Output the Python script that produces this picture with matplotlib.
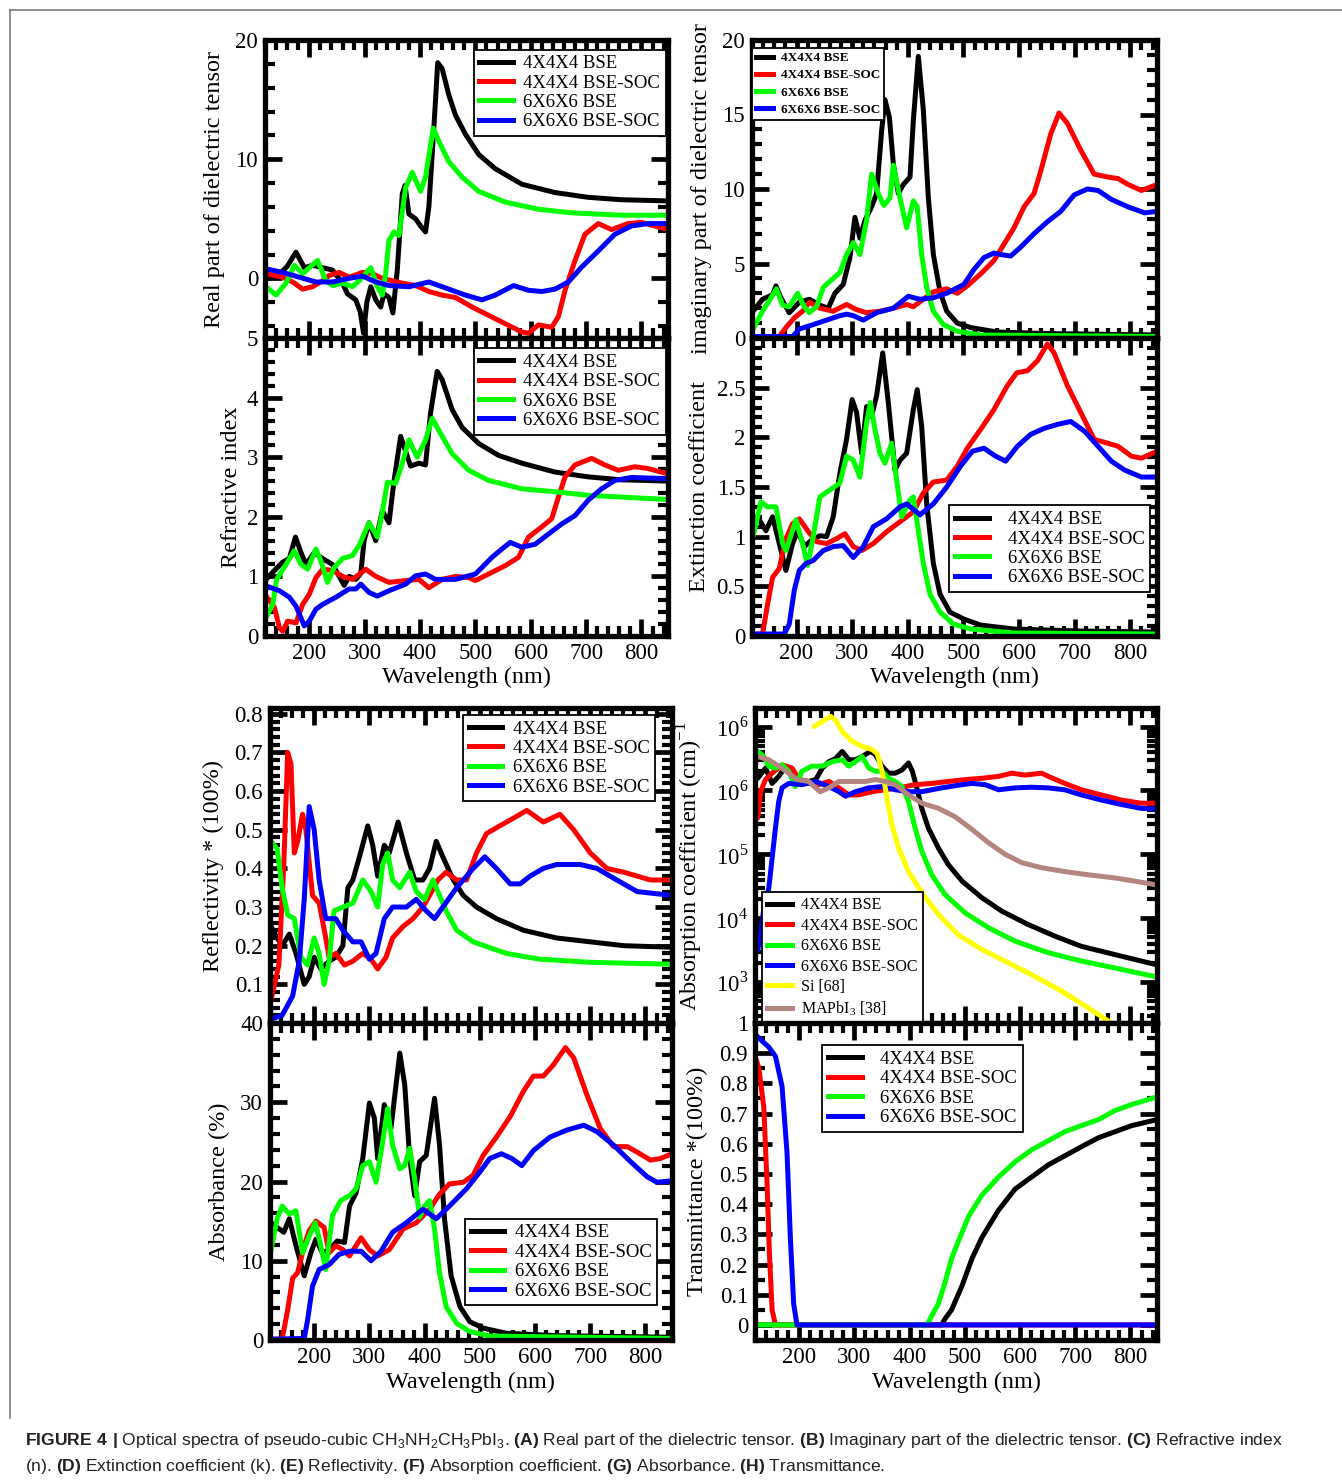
import numpy as np
import matplotlib
matplotlib.use("Agg")
import matplotlib.pyplot as plt
from matplotlib import font_manager
from matplotlib.lines import Line2D
from matplotlib.ticker import MultipleLocator, FixedLocator, FuncFormatter, LogLocator, NullFormatter

W, H = 1342, 1483
DPI = 100

series_labels = ["4X4X4 BSE", "4X4X4 BSE-SOC", "6X6X6 BSE", "6X6X6 BSE-SOC"]
series_colors = ["#000000", "#ff0000", "#00ff00", "#0000ff"]

# ---- (A) real part of dielectric tensor: (wavelength nm, value)
re_bse4 = [(122, 0.0), (140, 0.1), (160, 1.0), (176, 2.2), (191, 0.9), (206, 1.1), (224, 0.9), (242, 0.7),
           (260, -0.4), (269, -1.3), (284, -1.8), (292, -2.8), (298, -4.6), (304, -2.0), (311, -0.7),
           (320, -1.8), (329, -2.4), (335, -1.3), (344, -1.6), (351, -2.9), (359, 0.7), (368, 7.1),
           (373, 7.8), (380, 5.4), (392, 5.0), (401, 4.4), (410, 3.9), (416, 6.0), (425, 12.6), (432, 18.1),
           (440, 17.6), (452, 15.4), (464, 13.7), (482, 12.1), (506, 10.4), (536, 9.2), (584, 7.9),
           (644, 7.2), (704, 6.8), (764, 6.6), (848, 6.5)]
re_soc4 = [(122, 0.4), (152, 0.1), (170, -0.3), (188, -0.9), (206, -0.7), (224, -0.2), (236, 0.25),
           (254, 0.5), (272, 0.1), (296, 0.5), (314, 0.4), (332, 0.0), (368, -0.4), (392, -0.6),
           (416, -1.1), (440, -1.4), (464, -1.6), (494, -2.4), (524, -3.1), (554, -3.8), (584, -4.5),
           (596, -4.6), (614, -3.9), (638, -4.1), (650, -3.2), (662, -1.0), (680, 1.5), (698, 3.7),
           (722, 4.6), (746, 4.1), (776, 4.6), (800, 4.7), (824, 4.4), (848, 4.1)]
re_bse6 = [(122, -0.7), (140, -1.4), (158, -0.4), (173, 1.1), (188, 0.4), (215, 1.5), (230, -0.2),
           (242, -0.6), (260, -0.4), (278, -0.7), (290, -0.2), (311, 0.9), (323, -0.7), (332, -1.4),
           (338, 0.4), (344, 3.2), (353, 3.9), (362, 3.6), (374, 7.6), (386, 8.9), (401, 7.3), (410, 8.5),
           (424, 12.6), (434, 11.5), (452, 9.8), (476, 8.5), (506, 7.3), (554, 6.4), (614, 5.8),
           (674, 5.5), (764, 5.3), (848, 5.3)]
re_soc6 = [(122, 0.8), (152, 0.5), (182, 0.1), (212, -0.3), (242, -0.3), (272, 0.0), (296, 0.2),
           (320, -0.3), (344, -0.6), (380, -0.7), (416, -0.3), (452, -0.9), (482, -1.4), (512, -1.8),
           (536, -1.4), (569, -0.6), (596, -1.0), (620, -1.1), (644, -0.9), (668, -0.3), (692, 0.95),
           (722, 2.3), (752, 3.7), (782, 4.4), (812, 4.6), (848, 4.6)]

# ---- (B) imaginary part of dielectric tensor
im_bse4 = [(122, 1.8), (139, 2.6), (157, 2.9), (163, 3.5), (172, 2.7), (187, 1.7), (205, 2.4), (223, 2.6),
           (242, 2.2), (257, 2.0), (269, 3.0), (284, 3.6), (296, 5.4), (305, 8.1), (314, 6.7), (323, 7.9),
           (335, 8.8), (344, 9.7), (353, 13.9), (359, 16.0), (367, 14.8), (374, 11.7), (383, 9.7),
           (392, 10.3), (404, 10.8), (410, 14.6), (419, 18.9), (428, 15.3), (437, 9.4), (446, 5.6),
           (458, 3.1), (470, 1.8), (489, 1.0), (513, 0.7), (561, 0.4), (651, 0.3), (848, 0.2)]
im_soc4 = [(122, 0.1), (169, 0.1), (181, 0.7), (196, 1.35), (211, 1.8), (223, 2.4), (242, 2.0), (266, 1.8),
           (290, 2.25), (308, 1.9), (326, 1.7), (350, 1.8), (374, 2.0), (398, 2.25), (410, 2.1),
           (428, 2.6), (446, 3.1), (470, 3.3), (489, 3.0), (507, 3.5), (531, 4.3), (555, 5.2), (573, 6.3),
           (591, 7.4), (609, 8.8), (627, 9.7), (639, 11.2), (657, 13.7), (672, 15.1), (687, 14.4),
           (711, 12.6), (735, 11.0), (760, 10.8), (778, 10.7), (796, 10.3), (820, 9.9), (848, 10.3)]
im_bse6 = [(122, 0.6), (139, 1.8), (151, 2.5), (164, 3.3), (175, 2.2), (187, 2.1), (202, 3.0), (214, 2.1),
           (223, 1.7), (236, 2.1), (248, 3.4), (266, 4.0), (278, 4.4), (290, 5.6), (302, 6.4), (314, 5.6),
           (326, 7.9), (335, 11.0), (347, 9.7), (357, 8.9), (368, 9.4), (374, 11.6), (386, 9.4),
           (398, 7.4), (410, 9.2), (417, 8.8), (425, 5.6), (434, 3.4), (446, 1.8), (464, 0.9), (489, 0.45),
           (531, 0.2), (848, 0.1)]
im_soc6 = [(122, 0.1), (193, 0.1), (205, 0.6), (230, 0.9), (254, 1.2), (278, 1.5), (290, 1.6), (302, 1.5),
           (320, 1.2), (344, 1.7), (374, 2.0), (401, 2.8), (422, 2.6), (446, 2.7), (470, 3.0), (501, 3.6),
           (519, 4.6), (537, 5.4), (555, 5.7), (567, 5.6), (585, 5.5), (603, 6.1), (627, 7.0), (651, 7.8),
           (675, 8.5), (699, 9.6), (723, 10.0), (742, 9.9), (766, 9.3), (796, 8.8), (826, 8.4), (848, 8.5)]

# ---- (C) refractive index
n_bse4 = [(122, 0.95), (137, 1.1), (152, 1.24), (164, 1.3), (175, 1.66), (185, 1.4), (194, 1.2), (209, 1.4),
          (224, 1.3), (242, 1.2), (254, 1.0), (263, 0.85), (272, 1.0), (284, 0.95), (293, 1.05), (299, 1.6),
          (308, 1.9), (320, 1.6), (332, 2.1), (344, 1.9), (353, 2.6), (365, 3.35), (374, 3.1), (383, 2.85),
          (398, 2.9), (410, 2.87), (419, 3.74), (431, 4.44), (440, 4.3), (458, 3.8), (476, 3.5),
          (506, 3.23), (542, 3.03), (584, 2.9), (644, 2.75), (704, 2.67), (764, 2.62), (848, 2.6)]
n_soc4 = [(122, 0.67), (137, 0.48), (146, 0.14), (152, 0.08), (161, 0.25), (176, 0.22), (188, 0.53),
          (200, 0.7), (212, 0.98), (224, 1.12), (242, 1.1), (260, 1.0), (278, 0.95), (302, 1.12),
          (320, 1.0), (344, 0.9), (374, 0.93), (398, 0.95), (416, 0.81), (440, 0.95), (464, 1.0),
          (488, 0.98), (500, 0.93), (524, 1.04), (554, 1.18), (578, 1.32), (596, 1.66), (620, 1.83),
          (638, 1.97), (650, 2.33), (662, 2.67), (680, 2.87), (710, 2.98), (734, 2.87), (758, 2.78),
          (788, 2.84), (812, 2.81), (848, 2.72)]
n_bse6 = [(122, 0.31), (134, 0.53), (141, 0.95), (158, 1.2), (173, 1.43), (185, 1.2), (197, 1.12),
          (212, 1.46), (221, 1.26), (233, 0.9), (245, 1.15), (260, 1.3), (278, 1.35), (290, 1.52),
          (308, 1.9), (323, 1.66), (332, 2.08), (341, 2.58), (356, 2.56), (368, 2.9), (380, 3.29),
          (395, 3.0), (410, 3.29), (422, 3.65), (434, 3.45), (458, 3.06), (488, 2.78), (524, 2.61),
          (584, 2.47), (644, 2.42), (704, 2.36), (764, 2.33), (848, 2.29)]
n_soc6 = [(122, 0.84), (146, 0.76), (164, 0.65), (176, 0.5), (191, 0.17), (200, 0.25), (212, 0.45),
          (224, 0.53), (248, 0.65), (272, 0.79), (284, 0.79), (293, 0.87), (308, 0.73), (323, 0.67),
          (344, 0.76), (374, 0.87), (392, 1.01), (410, 1.04), (428, 0.95), (464, 0.95), (500, 1.04),
          (512, 1.15), (530, 1.32), (548, 1.46), (563, 1.57), (584, 1.49), (608, 1.54), (632, 1.71),
          (656, 1.88), (680, 2.02), (704, 2.28), (728, 2.47), (752, 2.61), (782, 2.66), (848, 2.64)]

# ---- (D) extinction coefficient
k_bse4 = [(122, 1.15), (133, 1.17), (145, 1.06), (157, 1.2), (169, 0.93), (181, 0.66), (193, 0.93),
          (202, 1.06), (214, 0.9), (226, 0.96), (242, 1.01), (254, 1.0), (266, 1.2), (278, 1.64),
          (290, 1.98), (300, 2.38), (308, 2.25), (317, 1.84), (326, 2.31), (335, 2.21), (344, 2.42),
          (355, 2.85), (365, 2.35), (377, 1.67), (386, 1.77), (398, 1.84), (410, 2.28), (417, 2.48),
          (425, 2.11), (434, 1.33), (446, 0.73), (458, 0.42), (476, 0.24), (501, 0.17), (531, 0.11),
          (591, 0.07), (711, 0.05), (848, 0.04)]
k_soc4 = [(122, 0.02), (139, 0.02), (148, 0.32), (157, 0.59), (169, 0.68), (181, 0.98), (193, 1.13),
          (205, 1.18), (220, 1.06), (236, 0.95), (254, 0.93), (272, 0.98), (287, 1.03), (302, 0.9),
          (317, 0.86), (338, 0.93), (362, 1.05), (386, 1.15), (410, 1.25), (428, 1.44), (446, 1.55),
          (470, 1.57), (489, 1.71), (507, 1.89), (531, 2.08), (555, 2.28), (579, 2.52), (596, 2.65),
          (615, 2.67), (633, 2.77), (651, 2.94), (663, 2.85), (687, 2.52), (711, 2.25), (735, 1.98),
          (760, 1.94), (778, 1.91), (802, 1.81), (820, 1.79), (848, 1.86)]
k_bse6 = [(122, 1.0), (136, 1.35), (148, 1.3), (163, 1.3), (175, 0.93), (181, 0.86), (199, 1.17),
          (211, 0.93), (220, 0.71), (230, 1.0), (242, 1.4), (260, 1.47), (278, 1.54), (290, 1.81),
          (302, 1.77), (314, 1.6), (326, 2.15), (333, 2.35), (341, 2.08), (350, 1.84), (359, 1.74),
          (371, 1.94), (380, 1.57), (389, 1.2), (404, 1.37), (410, 1.4), (419, 1.06), (428, 0.73),
          (440, 0.42), (458, 0.24), (482, 0.12), (513, 0.07), (591, 0.03), (848, 0.02)]
k_soc6 = [(122, 0.02), (178, 0.02), (187, 0.12), (196, 0.46), (205, 0.66), (217, 0.73), (230, 0.76),
          (248, 0.86), (266, 0.9), (284, 0.91), (302, 0.79), (320, 0.9), (338, 1.1), (362, 1.18),
          (386, 1.3), (398, 1.33), (422, 1.22), (446, 1.33), (470, 1.5), (495, 1.71), (516, 1.86),
          (537, 1.89), (558, 1.81), (576, 1.76), (597, 1.91), (621, 2.03), (645, 2.09), (669, 2.13),
          (693, 2.16), (718, 2.06), (742, 1.91), (766, 1.76), (790, 1.67), (820, 1.6), (848, 1.6)]

# ---- (E) reflectivity
r_bse4 = [(122, 0.25), (133, 0.22), (142, 0.2), (155, 0.23), (167, 0.18), (182, 0.1), (191, 0.12),
          (200, 0.17), (212, 0.14), (227, 0.16), (239, 0.17), (252, 0.2), (261, 0.35), (270, 0.37),
          (282, 0.43), (297, 0.51), (306, 0.46), (315, 0.38), (327, 0.46), (336, 0.44), (352, 0.52),
          (367, 0.44), (382, 0.37), (397, 0.37), (409, 0.4), (421, 0.47), (433, 0.43), (452, 0.37),
          (470, 0.33), (494, 0.3), (530, 0.27), (579, 0.24), (639, 0.22), (700, 0.21), (761, 0.2),
          (848, 0.196)]
r_soc4 = [(122, 0.06), (136, 0.15), (145, 0.41), (152, 0.7), (158, 0.67), (164, 0.44), (170, 0.47),
          (179, 0.54), (185, 0.5), (197, 0.33), (209, 0.31), (221, 0.22), (227, 0.17), (239, 0.18),
          (255, 0.15), (270, 0.16), (288, 0.18), (303, 0.165), (315, 0.14), (330, 0.17), (342, 0.22),
          (361, 0.25), (379, 0.27), (397, 0.3), (409, 0.33), (424, 0.37), (439, 0.39), (458, 0.37),
          (476, 0.37), (494, 0.44), (512, 0.49), (536, 0.51), (561, 0.53), (585, 0.55), (615, 0.52),
          (645, 0.54), (670, 0.5), (700, 0.44), (730, 0.4), (761, 0.39), (785, 0.38), (809, 0.37),
          (848, 0.37)]
r_bse6 = [(122, 0.47), (133, 0.45), (142, 0.35), (152, 0.28), (164, 0.27), (176, 0.17), (188, 0.15),
          (200, 0.22), (209, 0.18), (218, 0.1), (227, 0.16), (236, 0.29), (252, 0.3), (270, 0.31),
          (288, 0.37), (303, 0.34), (315, 0.3), (324, 0.41), (333, 0.44), (342, 0.37), (355, 0.35),
          (373, 0.39), (385, 0.34), (400, 0.32), (415, 0.37), (427, 0.33), (439, 0.29), (458, 0.24),
          (488, 0.21), (548, 0.18), (609, 0.165), (700, 0.157), (848, 0.152)]
r_soc6 = [(122, 0.01), (142, 0.02), (161, 0.07), (173, 0.16), (182, 0.32), (191, 0.56), (200, 0.5),
          (209, 0.37), (221, 0.27), (239, 0.27), (252, 0.24), (270, 0.21), (285, 0.21), (300, 0.165),
          (312, 0.18), (327, 0.27), (342, 0.3), (367, 0.3), (385, 0.32), (403, 0.29), (418, 0.27),
          (433, 0.3), (458, 0.35), (488, 0.4), (509, 0.43), (530, 0.4), (555, 0.36), (573, 0.36),
          (591, 0.38), (615, 0.4), (639, 0.41), (682, 0.41), (712, 0.4), (748, 0.37), (785, 0.34),
          (848, 0.33)]

# ---- (F) absorption coefficient, stored as log10(alpha)
a_bse4_log = [(125, 6.19), (139, 6.35), (151, 6.11), (163, 6.22), (175, 6.37), (187, 6.27), (199, 6.17),
              (217, 6.14), (230, 6.17), (242, 6.35), (254, 6.45), (266, 6.5), (278, 6.61), (290, 6.48),
              (302, 6.48), (314, 6.53), (329, 6.61), (338, 6.56), (350, 6.38), (362, 6.27), (374, 6.27),
              (386, 6.32), (398, 6.43), (405, 6.3), (413, 6.04), (422, 5.72), (434, 5.41), (452, 5.1),
              (470, 4.84), (495, 4.58), (531, 4.32), (567, 4.11), (615, 3.9), (663, 3.72), (711, 3.56),
              (772, 3.43), (848, 3.27)]
a_soc4_log = [(125, 5.57), (130, 5.98), (139, 6.17), (151, 6.27), (169, 6.4), (187, 6.35), (199, 6.19),
              (217, 6.11), (235, 6.09), (254, 6.14), (272, 6.04), (290, 5.93), (308, 5.93), (332, 5.98),
              (356, 6.01), (380, 6.04), (410, 6.09), (440, 6.11), (470, 6.14), (501, 6.17), (531, 6.19),
              (561, 6.22), (585, 6.27), (609, 6.24), (639, 6.27), (651, 6.22), (681, 6.11), (711, 6.01),
              (747, 5.93), (783, 5.85), (819, 5.8), (848, 5.8)]
a_bse6_log = [(125, 6.61), (136, 6.53), (145, 6.38), (157, 6.35), (169, 6.4), (181, 6.3), (193, 6.06),
              (205, 6.3), (223, 6.38), (242, 6.38), (260, 6.45), (278, 6.48), (290, 6.38), (302, 6.45),
              (314, 6.53), (326, 6.35), (338, 6.3), (350, 6.3), (362, 6.19), (374, 6.14), (386, 6.06),
              (398, 5.83), (410, 5.41), (422, 5.05), (440, 4.68), (464, 4.37), (501, 4.08), (543, 3.85),
              (591, 3.64), (651, 3.46), (711, 3.33), (772, 3.22), (848, 3.08)]
a_soc6_log = [(125, 3.5), (130, 3.74), (136, 4.16), (145, 4.47), (151, 4.94), (157, 5.41), (163, 5.83),
              (169, 6.04), (181, 6.11), (205, 6.09), (230, 6.14), (254, 6.06), (272, 5.98), (284, 5.91),
              (302, 5.98), (326, 6.04), (350, 6.06), (374, 6.01), (398, 5.98), (422, 5.98), (458, 6.04),
              (495, 6.09), (513, 6.11), (537, 6.09), (561, 6.01), (591, 6.04), (621, 6.05), (651, 6.04),
              (681, 6.01), (711, 5.93), (747, 5.85), (783, 5.78), (819, 5.72), (848, 5.71)]
a_si_log = [(227, 7.0), (242, 7.08), (257, 7.16), (266, 7.1), (278, 6.92), (296, 6.77), (314, 6.69),
            (332, 6.64), (341, 6.58), (347, 6.4), (353, 6.19), (359, 5.88), (368, 5.46), (380, 5.1),
            (398, 4.73), (422, 4.4), (452, 4.06), (488, 3.74), (531, 3.51), (579, 3.3), (627, 3.09),
            (675, 2.86), (723, 2.6), (765, 2.36)]
a_mapi_log = [(125, 6.53), (145, 6.48), (163, 6.38), (181, 6.27), (196, 6.17), (217, 6.14), (238, 5.98),
              (254, 6.04), (272, 6.14), (296, 6.14), (320, 6.14), (338, 6.17), (356, 6.14), (374, 6.09),
              (398, 5.93), (422, 5.8), (452, 5.72), (482, 5.59), (513, 5.39), (543, 5.18), (573, 5.0),
              (603, 4.87), (639, 4.79), (681, 4.73), (723, 4.68), (772, 4.63), (808, 4.58), (848, 4.52)]

# ---- (G) absorbance (%)
ab_bse4 = [(122, 14.8), (133, 14.2), (145, 13.6), (155, 15.3), (167, 11.9), (182, 8.1), (194, 11.0),
           (203, 12.7), (215, 11.0), (227, 11.4), (242, 12.5), (255, 12.3), (264, 16.9), (276, 18.6),
           (288, 22.9), (300, 29.9), (309, 28.0), (315, 22.9), (327, 29.7), (339, 26.7), (355, 36.2),
           (364, 32.2), (373, 22.9), (382, 18.2), (391, 22.5), (403, 23.3), (418, 30.5), (427, 24.6),
           (436, 15.3), (448, 8.1), (464, 4.2), (482, 2.3), (506, 1.5), (548, 0.85), (639, 0.55),
           (848, 0.35)]
ab_soc4 = [(122, 0.1), (142, 0.1), (152, 3.8), (161, 7.8), (170, 8.5), (182, 11.9), (191, 13.8),
           (203, 15.0), (218, 14.2), (227, 11.0), (239, 11.9), (252, 11.4), (264, 10.6), (285, 12.9),
           (300, 11.4), (315, 10.6), (336, 11.4), (361, 14.0), (385, 14.8), (409, 16.5), (427, 18.4),
           (445, 19.7), (470, 19.9), (488, 20.8), (506, 23.3), (530, 25.6), (555, 28.2), (579, 31.4),
           (597, 33.3), (615, 33.3), (633, 34.7), (655, 36.9), (670, 35.6), (694, 30.9), (718, 26.7),
           (742, 24.4), (767, 24.4), (785, 23.7), (809, 22.7), (827, 22.9), (848, 23.5)]
ab_bse6 = [(122, 11.4), (133, 15.3), (142, 16.9), (155, 15.9), (167, 16.3), (179, 11.0), (191, 13.1),
           (202, 14.8), (212, 11.9), (221, 8.9), (233, 15.7), (248, 17.6), (264, 18.2), (276, 19.1),
           (288, 22.0), (300, 22.5), (312, 19.9), (324, 25.0), (333, 29.2), (342, 24.6), (355, 21.6),
           (364, 22.0), (373, 24.2), (382, 20.3), (391, 15.5), (400, 16.9), (409, 17.6), (418, 14.0),
           (427, 8.5), (439, 4.2), (458, 2.1), (482, 1.06), (518, 0.5), (848, 0.2)]
ab_soc6 = [(122, 0.1), (182, 0.2), (188, 2.5), (197, 6.8), (209, 8.9), (227, 9.5), (245, 10.8),
           (264, 11.2), (285, 11.2), (303, 10.0), (321, 11.2), (342, 13.6), (367, 14.8), (397, 16.5),
           (421, 15.3), (445, 16.9), (476, 19.1), (500, 21.2), (518, 22.9), (539, 23.5), (558, 22.9),
           (576, 22.0), (597, 23.9), (627, 25.6), (658, 26.5), (688, 27.1), (712, 26.3), (742, 24.6),
           (773, 22.5), (803, 20.6), (821, 19.9), (848, 20.1)]

# ---- (H) transmittance
t_bse4 = [(122, 0.0), (458, 0.0), (464, 0.02), (476, 0.05), (495, 0.13), (513, 0.22), (531, 0.29),
          (561, 0.38), (591, 0.45), (621, 0.49), (651, 0.53), (681, 0.56), (711, 0.59), (742, 0.62),
          (772, 0.64), (802, 0.66), (848, 0.68)]
t_soc4 = [(122, 0.88), (127, 0.85), (136, 0.72), (142, 0.46), (146, 0.24), (151, 0.05), (157, 0.0),
          (848, 0.0)]
t_bse6 = [(122, 0.0), (432, 0.0), (440, 0.03), (452, 0.07), (464, 0.14), (476, 0.22), (489, 0.28),
          (507, 0.36), (531, 0.43), (561, 0.49), (591, 0.54), (621, 0.58), (651, 0.61), (681, 0.64),
          (711, 0.66), (742, 0.68), (772, 0.71), (802, 0.73), (848, 0.755)]
t_soc6 = [(122, 0.96), (127, 0.95), (145, 0.92), (157, 0.89), (169, 0.79), (178, 0.57), (184, 0.29),
          (190, 0.07), (196, 0.0), (848, 0.0)]

caption_lines = [
    r"$\mathbf{FIGURE\ 4\ |}$ Optical spectra of pseudo-cubic CH$_\mathsf{3}$NH$_\mathsf{2}$CH$_\mathsf{3}$PbI$_\mathsf{3}$. "
    r"$\mathbf{(A)}$ Real part of the dielectric tensor. $\mathbf{(B)}$ Imaginary part of the dielectric tensor. "
    r"$\mathbf{(C)}$ Refractive index",
    r"(n). $\mathbf{(D)}$ Extinction coefficient (k). $\mathbf{(E)}$ Reflectivity. $\mathbf{(F)}$ Absorption "
    r"coefficient. $\mathbf{(G)}$ Absorbance. $\mathbf{(H)}$ Transmittance.",
]

# ---------------------------------------------------------------- fonts
installed = {f.name for f in font_manager.fontManager.ttflist}
cap_font = "Liberation Sans Narrow" if "Liberation Sans Narrow" in installed else "Liberation Sans"
SERIF = "Liberation Serif"

plt.rcParams["font.family"] = [SERIF, "DejaVu Serif"]
plt.rcParams["mathtext.fontset"] = "custom"
plt.rcParams["mathtext.rm"] = SERIF
plt.rcParams["mathtext.sf"] = cap_font
plt.rcParams["mathtext.bf"] = cap_font + ":bold"

LW = 3.6
TICK_FS = 16.5
LABEL_FS = 17.5
LEG_FS = 13.5

fig = plt.figure(figsize=(W / DPI, H / DPI), dpi=DPI)
fig.patch.set_facecolor("white")

# thin page frame (top and left edges)
fig.add_artist(Line2D([10 / W, 1.0], [1 - 10 / H, 1 - 10 / H], transform=fig.transFigure,
                      color="#7a7a7a", lw=1.2))
fig.add_artist(Line2D([10 / W, 10 / W], [1 - 10 / H, 1 - 1418 / H], transform=fig.transFigure,
                      color="#7a7a7a", lw=1.2))


def px_axes(x0, y0, x1, y1):
    return fig.add_axes([x0 / W, 1 - y1 / H, (x1 - x0) / W, (y1 - y0) / H])


def fmt_skip(skip):
    def f(v, pos):
        for s in skip:
            if abs(v - s) < 1e-9:
                return ""
        return f"{v:g}"
    return FuncFormatter(f)


def style(ax, ylim, major=None, minor=None, skip=(), xlabels=False, xlab_y=-0.10):
    ax.set_xlim(120, 848)
    ax.set_ylim(*ylim)
    ax.xaxis.set_major_locator(MultipleLocator(100))
    ax.xaxis.set_minor_locator(MultipleLocator(20))
    if major is not None:
        ax.yaxis.set_major_locator(MultipleLocator(major))
        ax.yaxis.set_minor_locator(MultipleLocator(minor))
        ax.yaxis.set_major_formatter(fmt_skip(skip))
    ax.tick_params(which="both", direction="in", top=True, right=True)
    ax.tick_params(which="major", length=12, width=3.4, labelsize=TICK_FS, pad=5)
    ax.tick_params(which="minor", length=7, width=3.0)
    for s in ax.spines.values():
        s.set_linewidth(3.8)
    if xlabels:
        ax.set_xlabel("Wavelength (nm)", fontsize=LABEL_FS)
        ax.xaxis.set_label_coords(0.5, xlab_y)
    else:
        ax.tick_params(labelbottom=False)


def draw(ax, groups, log=False):
    for data, color in groups:
        arr = np.array(data, dtype=float)
        y = 10 ** arr[:, 1] if log else arr[:, 1]
        ax.plot(arr[:, 0], y, color=color, lw=LW, solid_joinstyle="round", solid_capstyle="round")


def legend(ax, handles_labels, loc, anchor, fs, hl=1.8, htp=0.55, ls=0.12, bold=False):
    handles = [Line2D([], [], color=c, lw=LW) for c, _ in handles_labels]
    labels = [l for _, l in handles_labels]
    prop = {"family": SERIF, "size": fs}
    if bold:
        prop["weight"] = "bold"
    leg = ax.legend(handles, labels, loc=loc, bbox_to_anchor=anchor, borderaxespad=0, prop=prop,
                    handlelength=hl, handletextpad=htp, labelspacing=ls, borderpad=0.3,
                    fancybox=False, framealpha=1, edgecolor="black")
    leg.get_frame().set_linewidth(1.3)
    return leg


four = list(zip(series_colors, series_labels))

# (A) real part
axA = px_axes(265, 40, 668, 338)
draw(axA, zip([re_bse4, re_soc4, re_bse6, re_soc6], series_colors))
style(axA, (-5, 20), 10, 2)
axA.set_ylabel("Real part of dielectric tensor", fontsize=LABEL_FS)
axA.yaxis.set_label_coords(-0.10, 0.5)
legend(axA, four, "upper right", (0.995, 0.968), LEG_FS)

# (C) refractive index
axC = px_axes(265, 338, 668, 636)
draw(axC, zip([n_bse4, n_soc4, n_bse6, n_soc6], series_colors))
style(axC, (0, 5), 1, 0.2, xlabels=True, xlab_y=-0.105)
axC.set_ylabel("Refractive index", fontsize=LABEL_FS)
axC.yaxis.set_label_coords(-0.057, 0.5)
legend(axC, four, "upper right", (0.995, 0.966), LEG_FS)

# (B) imaginary part
axB = px_axes(752, 40, 1157, 338)
draw(axB, zip([im_bse4, im_soc4, im_bse6, im_soc6], series_colors))
style(axB, (0, 20), 5, 1)
axB.set_ylabel("imaginary part of dielectric tensor", fontsize=LABEL_FS)
axB.yaxis.set_label_coords(-0.099, 0.5)
legend(axB, four, "upper left", (0.0, 0.973), 9.5, hl=1.3, htp=0.6, ls=0.38, bold=True)

# (D) extinction coefficient
axD = px_axes(752, 338, 1157, 636)
draw(axD, zip([k_bse4, k_soc4, k_bse6, k_soc6], series_colors))
style(axD, (0, 3), 0.5, 0.1, skip=(3,), xlabels=True, xlab_y=-0.105)
axD.set_ylabel("Extinction coefficient", fontsize=LABEL_FS)
axD.yaxis.set_label_coords(-0.104, 0.5)
legend(axD, four, "lower right", (0.983, 0.148), LEG_FS, hl=1.8, htp=1.0)

# (E) reflectivity
axE = px_axes(270, 708, 672, 1023)
draw(axE, zip([r_bse4, r_soc4, r_bse6, r_soc6], series_colors))
style(axE, (0, 0.815), 0.1, 0.02, skip=(0,))
axE.set_ylabel("Reflectivity * (100%)", fontsize=LABEL_FS)
axE.yaxis.set_label_coords(-0.114, 0.5)
legend(axE, four, "upper right", (0.958, 0.978), LEG_FS)

# (G) absorbance
axG = px_axes(270, 1023, 672, 1340)
draw(axG, zip([ab_bse4, ab_soc4, ab_bse6, ab_soc6], series_colors))
style(axG, (0, 40), 10, 2, xlabels=True, xlab_y=-0.10)
axG.set_ylabel("Absorbance (%)", fontsize=LABEL_FS)
axG.yaxis.set_label_coords(-0.10, 0.5)
legend(axG, four, "lower right", (0.963, 0.11), LEG_FS)

# (F) absorption coefficient (log scale)
axF = px_axes(755, 708, 1157, 1023)
draw(axF, zip([a_bse4_log, a_soc4_log, a_bse6_log, a_soc6_log, a_si_log, a_mapi_log],
              series_colors + ["#ffff00", "#b4857f"]), log=True)
axF.set_yscale("log")
style(axF, (10 ** 2.36, 10 ** 7.29))
axF.yaxis.set_major_locator(FixedLocator([1e3, 1e4, 1e5, 1e6, 1e7]))
f_tick_text = {3: r"$10^{3}$", 4: r"$10^{4}$", 5: r"$10^{5}$", 6: r"$10^{6}$", 7: r"$10^{6}$"}
axF.yaxis.set_major_formatter(FuncFormatter(lambda v, p: f_tick_text.get(int(round(np.log10(v))), "")))
axF.yaxis.set_minor_locator(LogLocator(base=10, subs=np.arange(2, 10)))
axF.yaxis.set_minor_formatter(NullFormatter())
axF.set_ylabel(r"Absorption coefficient (cm)$^{-1}$", fontsize=LABEL_FS)
axF.yaxis.set_label_coords(-0.124, 0.5)
legend(axF, four + [("#ffff00", "Si [68]"), ("#b4857f", r"MAPbI$_3$ [38]")], "lower left",
       (0.017, 0.0), 11.5, hl=1.6, htp=0.55, ls=0.28)

# (H) transmittance
axH = px_axes(755, 1023, 1157, 1340)
draw(axH, zip([t_bse4, t_soc4, t_bse6, t_soc6], series_colors))
style(axH, (-0.05, 1.0), 0.1, 0.05, xlabels=True, xlab_y=-0.10)
axH.set_ylabel("Transmittance *(100%)", fontsize=LABEL_FS)
axH.yaxis.set_label_coords(-0.117, 0.5)
legend(axH, four, "upper left", (0.167, 0.93), LEG_FS, hl=1.8, htp=1.0)

# caption, scaled so the first line spans the text block width
cap_texts = []
for i, line in enumerate(caption_lines):
    t = fig.text(25 / W, 1 - (1441 + 26 * i) / H, line, family=[cap_font, "DejaVu Sans"], fontsize=12,
                 color="#231f20", va="center", ha="left")
    cap_texts.append(t)
renderer = fig.canvas.get_renderer()
width = cap_texts[0].get_window_extent(renderer).width
scale = 1255.0 / width
for t in cap_texts:
    t.set_fontsize(12 * scale)

fig.savefig("out.png", dpi=DPI, facecolor="white")
